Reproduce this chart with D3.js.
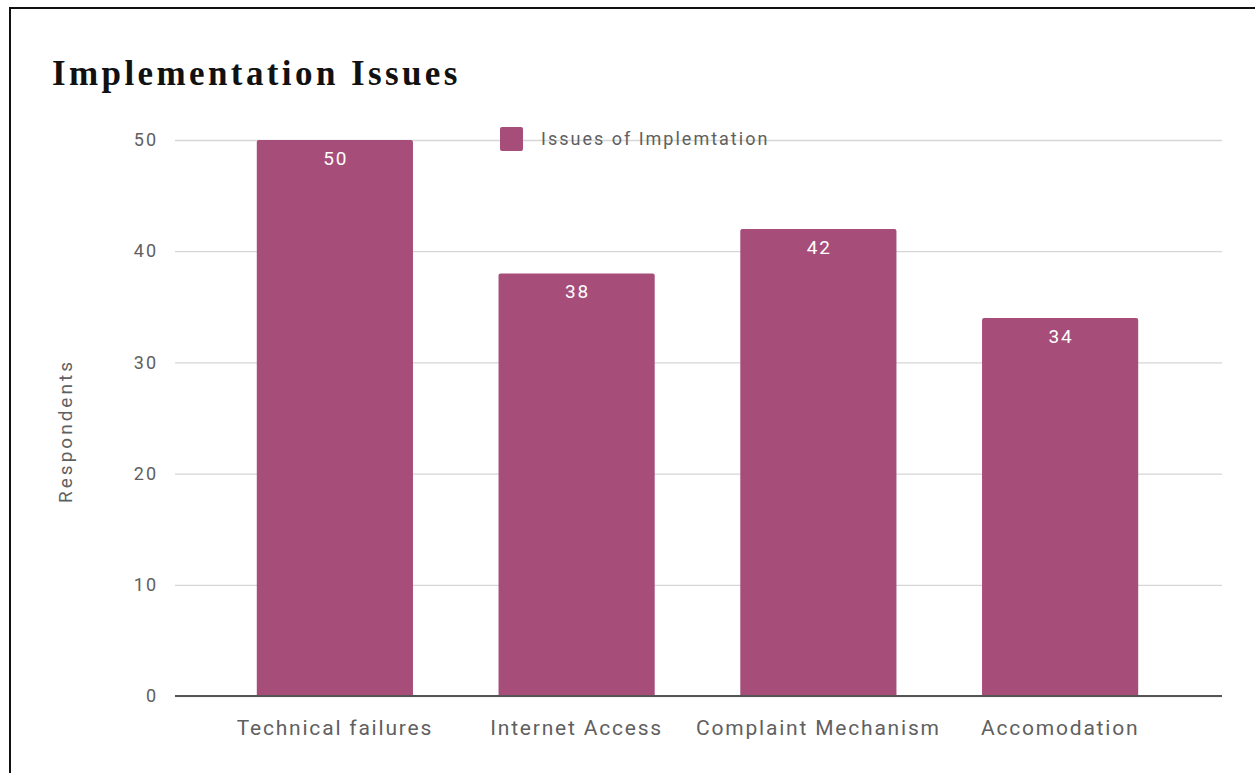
<!DOCTYPE html>
<html>
<head>
<meta charset="utf-8">
<script src="https://cdn.jsdelivr.net/npm/d3@7"></script>
<style>
  html, body { margin: 0; padding: 0; background: #fff; }
  svg { display: block; }
</style>
</head>
<body>
<svg id="chart" width="1255" height="773"></svg>
<script>
// Chart data
const categories = ["Technical failures", "Internet Access", "Complaint Mechanism", "Accomodation"];
const values = [50, 38, 42, 34];
const yTicks = [0, 10, 20, 30, 40, 50];
const seriesName = "Issues of Implemtation";
const chartTitle = "Implementation Issues";
const yTitle = "Respondents";

const W = 1255, H = 773;
const svg = d3.select("#chart");
const barColor = "#a64d79";
const textGrey = "#606060";
const sans = "Roboto, sans-serif";

// Frame around the chart card
svg.append("line").attr("x1", 9).attr("x2", W).attr("y1", 8).attr("y2", 8)
  .attr("stroke", "#111").attr("stroke-width", 2);
svg.append("line").attr("x1", 10).attr("x2", 10).attr("y1", 7).attr("y2", H)
  .attr("stroke", "#111").attr("stroke-width", 2);

// Plot area
const gridLeft = 175, gridRight = 1222;
const yTop = 140, yBottom = 696;

const y = d3.scaleLinear().domain([0, 50]).range([yBottom, yTop]);
const x = d3.scaleBand().domain(categories).range([214, 1181]).paddingInner(0.354).paddingOuter(0.177);

// Title
svg.append("text")
  .attr("x", 52).attr("y", 85)
  .attr("font-family", "'Liberation Serif', 'DejaVu Serif', serif")
  .attr("font-weight", "bold")
  .attr("font-size", 35)
  .attr("letter-spacing", 3.4)
  .attr("fill", "#111")
  .text(chartTitle);

// Gridlines and y tick labels
const yAxis = d3.axisLeft(y).tickValues(yTicks).tickSize(-(gridRight - gridLeft)).tickPadding(17);
const gy = svg.append("g").attr("transform", `translate(${gridLeft},0)`).call(yAxis);
gy.select(".domain").remove();
gy.selectAll(".tick line").attr("stroke", "#d6d6d6").attr("stroke-width", 1.3);
gy.selectAll(".tick text")
  .attr("font-family", sans).attr("font-size", 18).attr("letter-spacing", 2).attr("fill", textGrey);

// Bars
svg.append("g").selectAll("path")
  .data(categories)
  .join("path")
  .attr("fill", barColor)
  .attr("d", (c, i) => {
    const x0 = x(c), x1 = x(c) + x.bandwidth();
    const y0 = y(values[i]), y1 = y(0), r = 2;
    return `M${x0},${y1}L${x0},${y0 + r}Q${x0},${y0} ${x0 + r},${y0}L${x1 - r},${y0}Q${x1},${y0} ${x1},${y0 + r}L${x1},${y1}Z`;
  });

// Value labels inside the bars
svg.append("g").selectAll("text")
  .data(categories)
  .join("text")
  .attr("x", c => x(c) + x.bandwidth() / 2 + 1)
  .attr("y", (c, i) => y(values[i]) + 25)
  .attr("text-anchor", "middle")
  .attr("font-family", sans)
  .attr("font-size", 19)
  .attr("letter-spacing", 2)
  .attr("fill", "#fff")
  .text((c, i) => values[i]);

// Baseline
svg.append("line")
  .attr("x1", gridLeft).attr("x2", gridRight)
  .attr("y1", y(0)).attr("y2", y(0))
  .attr("stroke", "#555").attr("stroke-width", 2);

// Category labels
const xAxis = d3.axisBottom(x).tickSize(0).tickPadding(24);
const gx = svg.append("g").attr("transform", `translate(0,${yBottom})`).call(xAxis);
gx.select(".domain").remove();
gx.selectAll(".tick text")
  .attr("font-family", sans).attr("font-size", 21).attr("letter-spacing", 1.8).attr("fill", textGrey);

// Y-axis title
svg.append("text")
  .attr("transform", "translate(72,431) rotate(-90)")
  .attr("text-anchor", "middle")
  .attr("font-family", sans)
  .attr("font-size", 19)
  .attr("letter-spacing", 3)
  .attr("fill", textGrey)
  .text(yTitle);

// Legend
const legend = svg.append("g").attr("transform", "translate(500,127)");
legend.append("rect").attr("width", 23).attr("height", 24).attr("rx", 2).attr("fill", barColor);
legend.append("text")
  .attr("x", 41).attr("y", 18)
  .attr("font-family", sans)
  .attr("font-size", 18)
  .attr("letter-spacing", 2)
  .attr("fill", textGrey)
  .text(seriesName);
</script>
</body>
</html>
